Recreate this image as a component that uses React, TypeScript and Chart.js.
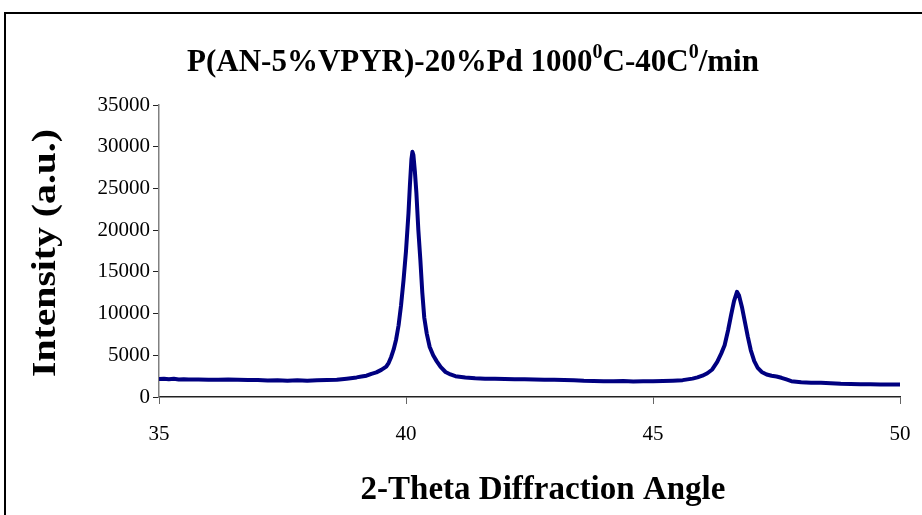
import React, { useEffect, useRef } from "react";
import { Chart, registerables } from "chart.js";

Chart.register(...registerables);

const TITLE_PARTS: { text: string; sup: boolean }[] = [
  { text: "P(AN-5%VPYR)-20%Pd 1000", sup: false },
  { text: "0", sup: true },
  { text: "C-40C", sup: false },
  { text: "0", sup: true },
  { text: "/min", sup: false },
];
const X_TITLE = "2-Theta Diffraction Angle";
const Y_TITLE = "Intensity (a.u.)";

const X_MIN = 35;
const X_MAX = 50;
const X_STEP = 5;
const Y_MIN = 0;
const Y_MAX = 35000;
const Y_STEP = 5000;

const angles: number[] = [
  35.0, 35.1, 35.2, 35.3, 35.4, 35.5, 35.6, 35.8, 36.0, 36.2, 36.4, 36.6, 36.8, 37.0, 37.2, 37.4, 37.6, 37.8,
  38.0, 38.2, 38.4, 38.6, 38.8, 39.0, 39.1, 39.2, 39.3, 39.4, 39.5, 39.6, 39.65, 39.7, 39.75, 39.8, 39.85,
  39.9, 39.95, 40.0, 40.05, 40.08, 40.11, 40.13, 40.15, 40.18, 40.21, 40.25, 40.29, 40.33, 40.37, 40.42,
  40.48, 40.55, 40.62, 40.7, 40.8, 40.9, 41.0, 41.2, 41.4, 41.6, 41.8, 42.0, 42.2, 42.4, 42.6, 42.8, 43.0,
  43.2, 43.4, 43.6, 43.8, 44.0, 44.2, 44.4, 44.6, 44.8, 45.0, 45.2, 45.4, 45.6, 45.8, 45.9, 46.0, 46.1,
  46.2, 46.3, 46.38, 46.45, 46.52, 46.58, 46.64, 46.7, 46.74, 46.8, 46.86, 46.92, 46.98, 47.05, 47.12,
  47.2, 47.3, 47.4, 47.5, 47.6, 47.7, 47.8, 48.0, 48.2, 48.4, 48.6, 48.8, 49.0, 49.2, 49.4, 49.6, 49.8, 50.0,
];

const intensity: number[] = [
  2150, 2200, 2120, 2180, 2100, 2130, 2090, 2110, 2080, 2070, 2090, 2060, 2050, 2040, 1980, 2010, 1960, 2000,
  1950, 2010, 2030, 2060, 2200, 2350, 2450, 2550, 2780, 2950, 3250, 3650, 4100, 4800, 5700, 6900, 8600,
  11000, 14000, 17500, 22000, 25500, 28500, 29400, 29000, 27000, 24500, 20000, 16500, 12500, 9500, 7600,
  6000, 5000, 4300, 3600, 3000, 2700, 2500, 2350, 2250, 2200, 2180, 2150, 2130, 2120, 2100, 2080, 2060,
  2050, 2010, 1950, 1920, 1900, 1880, 1910, 1870, 1900, 1890, 1920, 1960, 2020, 2200, 2350, 2550, 2850,
  3300, 4200, 5200, 6200, 8000, 9800, 11500, 12600, 12200, 10800, 9000, 7200, 5600, 4300, 3500,
  3000, 2700, 2550, 2450, 2300, 2100, 1900, 1780, 1720, 1700, 1650, 1580, 1560, 1540, 1520, 1500, 1500, 1490,
];

const SERIF = "'Liberation Serif', 'Times New Roman', serif";

const framePlugin = {
  id: "frameAndTexts",
  afterDraw(chart: any) {
    const ctx = chart.ctx as CanvasRenderingContext2D;
    ctx.save();
    // outer frame
    ctx.strokeStyle = "#000";
    ctx.lineWidth = 2;
    ctx.strokeRect(5, 13, 935, 600);

    // title with superscripts
    const mainFont = `bold 31px ${SERIF}`;
    const supFont = `bold 20px ${SERIF}`;
    let total = 0;
    for (const p of TITLE_PARTS) {
      ctx.font = p.sup ? supFont : mainFont;
      total += ctx.measureText(p.text).width;
    }
    let x = 473 - total / 2;
    const baseY = 71;
    ctx.fillStyle = "#000";
    ctx.textBaseline = "alphabetic";
    ctx.textAlign = "left";
    for (const p of TITLE_PARTS) {
      ctx.font = p.sup ? supFont : mainFont;
      ctx.fillText(p.text, x, p.sup ? baseY - 13 : baseY);
      x += ctx.measureText(p.text).width;
    }

    // x axis title
    ctx.font = `bold 33px ${SERIF}`;
    ctx.textAlign = "center";
    ctx.textBaseline = "middle";
    ctx.fillText(X_TITLE, 543, 490);

    // y axis title
    ctx.font = `bold 34px ${SERIF}`;
    const w = ctx.measureText(Y_TITLE).width;
    ctx.translate(46, 253);
    ctx.rotate(-Math.PI / 2);
    ctx.scale(248 / w, 1);
    ctx.fillText(Y_TITLE, 0, 0);
    ctx.restore();
  },
};

export default function App() {
  const ref = useRef<HTMLCanvasElement | null>(null);

  useEffect(() => {
    if (!ref.current) return;
    const points = angles.map((a, i) => ({ x: a, y: intensity[i] }));
    const chart = new Chart(ref.current, {
      type: "line",
      data: {
        datasets: [
          {
            data: points,
            borderColor: "#000080",
            borderWidth: 4,
            pointRadius: 0,
            tension: 0,
            fill: false,
            borderJoinStyle: "round",
            borderCapStyle: "round",
          },
        ],
      },
      options: {
        responsive: false,
        animation: false,
        events: [],
        layout: { padding: { top: 105, right: 22, left: 0, bottom: 0 } },
        plugins: { legend: { display: false }, title: { display: false }, tooltip: { enabled: false } },
        scales: {
          x: {
            type: "linear",
            min: X_MIN,
            max: X_MAX,
            afterFit: (s: any) => {
              s.height = 118;
              s.paddingLeft = 0;
              s.paddingRight = 0;
            },
            ticks: {
              stepSize: X_STEP,
              color: "#000",
              padding: 18,
              maxRotation: 0,
              font: { family: SERIF, size: 21 },
              callback: (v: any) => String(v),
            },
            grid: { display: true, drawOnChartArea: false, drawTicks: true, tickLength: 7, color: "#666" },
            border: { display: true, color: "#222", width: 1.5 },
          },
          y: {
            min: Y_MIN,
            max: Y_MAX,
            afterFit: (s: any) => {
              s.width = 159;
              s.paddingTop = 0;
              s.paddingBottom = 0;
            },
            ticks: {
              stepSize: Y_STEP,
              color: "#000",
              padding: 3,
              font: { family: SERIF, size: 21 },
              callback: (v: any) => String(v),
            },
            grid: { display: true, drawOnChartArea: false, drawTicks: true, tickLength: 6, color: "#222" },
            border: { display: true, color: "#808080", width: 1.5 },
          },
        },
      },
      plugins: [framePlugin],
    } as any);
    return () => chart.destroy();
  }, []);

  return (
    <div style={{ position: "absolute", left: 0, top: 0, width: 922, height: 515, background: "#fff" }}>
      <canvas ref={ref} width={922} height={515} style={{ display: "block" }} />
    </div>
  );
}
